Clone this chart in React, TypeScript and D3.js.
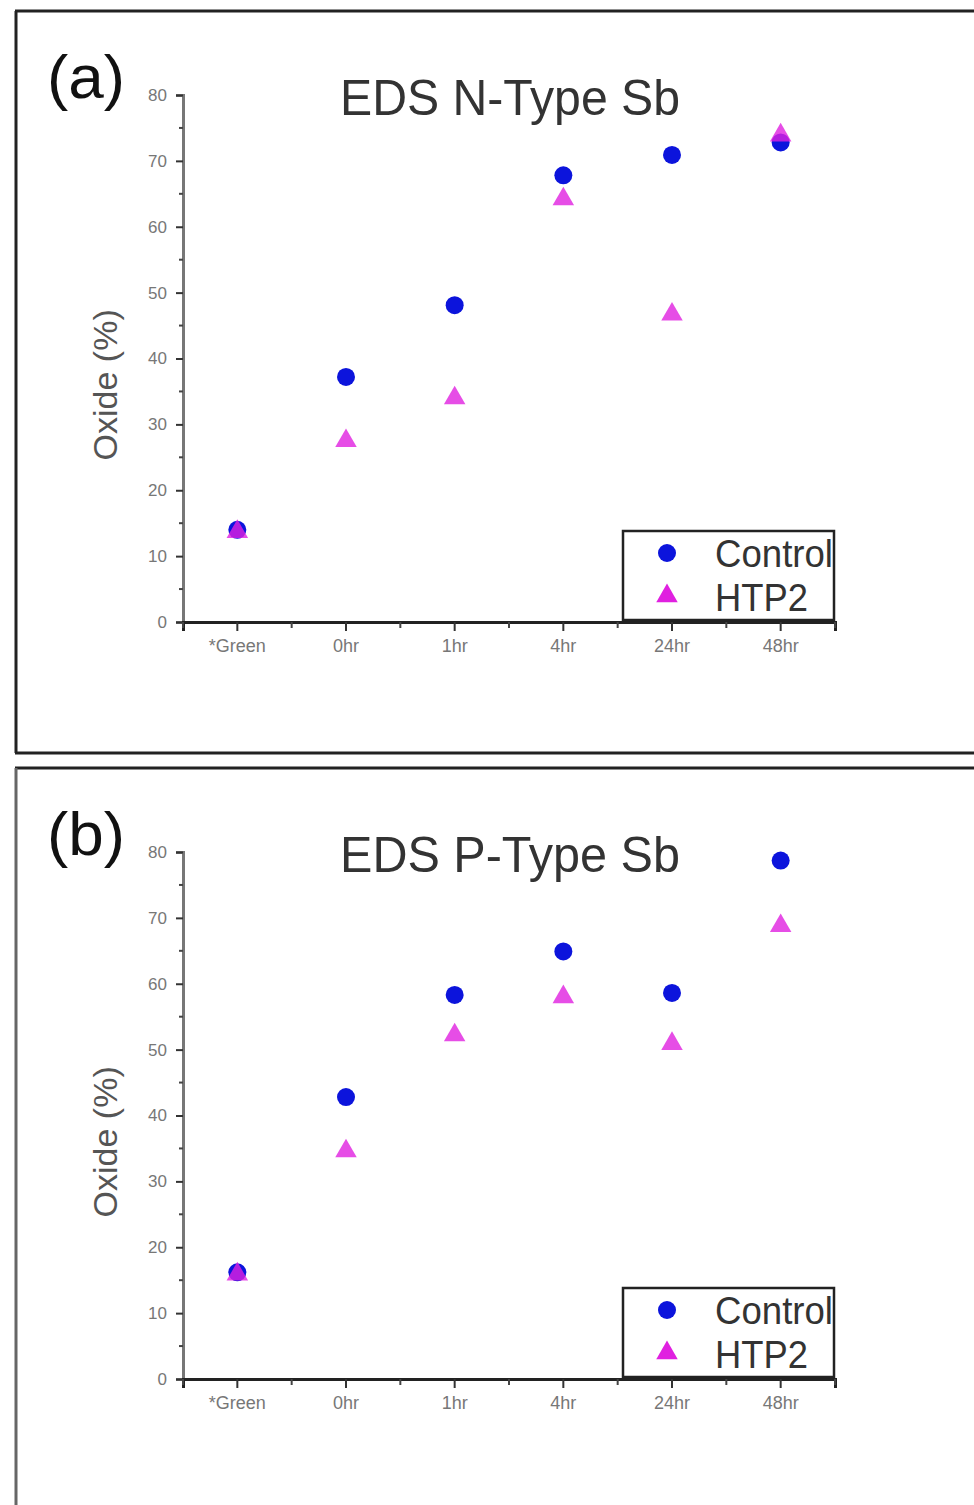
import React, { useRef, useEffect } from 'react';
import * as d3 from 'd3';

const categories = ['*Green', '0hr', '1hr', '4hr', '24hr', '48hr'];
const yTicks = [0, 10, 20, 30, 40, 50, 60, 70, 80];

const nControl = [14, 37.2, 48.1, 67.8, 70.9, 72.8];
const nHTP2 = [14, 27.8, 34.3, 64.5, 47, 74.2];
const pControl = [16.2, 42.8, 58.3, 64.9, 58.6, 78.7];
const pHTP2 = [16.2, 34.9, 52.5, 58.3, 51.2, 69.1];

const panels = [
  { tag: '(a)', title: 'EDS N-Type Sb', control: nControl, htp2: nHTP2, top: 11, bottom: 753, bottomBorder: true },
  { tag: '(b)', title: 'EDS P-Type Sb', control: pControl, htp2: pHTP2, top: 768, bottom: 1505, bottomBorder: false },
];

const BLUE = '#0c14dc';
const MAGENTA = '#e020e0';

const App = () => {
  const svgRef = useRef(null);

  useEffect(() => {
    const svg = d3.select(svgRef.current);
    svg.selectAll('*').remove();
    svg.append('rect').attr('width', 974).attr('height', 1505).attr('fill', '#fff');

    const font = '"Liberation Sans", Arial, sans-serif';
    const x = d3.scaleBand().domain(categories).range([183, 835]);
    const tri = d3.symbol().type(d3.symbolTriangle).size(200);

    panels.forEach((p) => {
      const g = svg.append('g');
      const offset = p.top - 11;
      const y = d3.scaleLinear().domain([0, 80]).range([622 + offset, 95 + offset]);

      // panel frame
      g.append('line').attr('x1', 15).attr('x2', 974).attr('y1', p.top).attr('y2', p.top)
        .attr('stroke', '#222').attr('stroke-width', 3);
      g.append('line').attr('x1', 16).attr('x2', 16).attr('y1', p.top).attr('y2', p.bottom)
        .attr('stroke', p.bottomBorder ? '#222' : '#666').attr('stroke-width', 3);
      if (p.bottomBorder) {
        g.append('line').attr('x1', 15).attr('x2', 974).attr('y1', p.bottom).attr('y2', p.bottom)
          .attr('stroke', '#222').attr('stroke-width', 3);
      }

      // panel tag and title
      g.append('text').attr('x', 47).attr('y', 98 + offset)
        .attr('textLength', 78).attr('lengthAdjust', 'spacingAndGlyphs')
        .style('font-family', font).style('font-size', '62px').attr('fill', '#111')
        .text(p.tag);
      g.append('text').attr('x', 340).attr('y', 115 + offset)
        .attr('textLength', 340).attr('lengthAdjust', 'spacingAndGlyphs')
        .style('font-family', font).style('font-size', '50px').attr('fill', '#333')
        .text(p.title);

      // y axis
      const yAxis = g.append('g').attr('transform', 'translate(183,0)')
        .call(d3.axisLeft(y).tickValues(yTicks).tickSize(7).tickPadding(9));
      yAxis.select('.domain').attr('stroke', '#777').attr('stroke-width', 3);
      yAxis.selectAll('.tick line').attr('stroke', '#333').attr('stroke-width', 2);
      yAxis.selectAll('.tick text').attr('fill', '#777')
        .style('font-family', font).style('font-size', '17px');
      const minorY = d3.range(5, 80, 10);
      g.selectAll('.minor-y').data(minorY).enter().append('line')
        .attr('x1', 179).attr('x2', 183).attr('y1', (d) => y(d)).attr('y2', (d) => y(d))
        .attr('stroke', '#444').attr('stroke-width', 2);

      // x axis
      const xAxis = g.append('g').attr('transform', `translate(0,${y(0)})`)
        .call(d3.axisBottom(x).tickSizeOuter(0).tickSize(9).tickPadding(8));
      xAxis.select('.domain').attr('stroke', '#222').attr('stroke-width', 3);
      xAxis.selectAll('.tick line').attr('stroke', '#333').attr('stroke-width', 2);
      xAxis.selectAll('.tick text').attr('fill', '#777')
        .style('font-family', font).style('font-size', '18px');
      const bounds = categories.map((c) => x(c)).concat([835]);
      g.selectAll('.minor-x').data(bounds).enter().append('line')
        .attr('x1', (d) => d).attr('x2', (d) => d)
        .attr('y1', y(0)).attr('y2', y(0) + 6)
        .attr('stroke', '#444').attr('stroke-width', 2);

      // y label
      g.append('text')
        .attr('transform', `translate(117,${y(36)}) rotate(-90)`)
        .attr('text-anchor', 'middle')
        .style('font-family', font).style('font-size', '34px').attr('fill', '#555')
        .text('Oxide (%)');

      // data
      const cx = (i) => x(categories[i]) + x.bandwidth() / 2;
      g.selectAll('.ctrl').data(p.control).enter().append('circle')
        .attr('cx', (d, i) => cx(i)).attr('cy', (d) => y(d)).attr('r', 9)
        .attr('fill', BLUE);
      g.selectAll('.htp').data(p.htp2).enter().append('path')
        .attr('d', tri)
        .attr('transform', (d, i) => `translate(${cx(i)},${y(d) + 2})`)
        .attr('fill', MAGENTA).attr('fill-opacity', 0.8);

      // legend
      const ly = y(0);
      g.append('rect').attr('x', 623).attr('y', ly - 91).attr('width', 211).attr('height', 89)
        .attr('fill', '#fff').attr('stroke', '#222').attr('stroke-width', 2.5);
      g.append('circle').attr('cx', 667).attr('cy', ly - 69).attr('r', 9).attr('fill', BLUE);
      g.append('path').attr('d', tri).attr('transform', `translate(667,${ly - 26})`).attr('fill', MAGENTA);
      g.append('text').attr('x', 715).attr('y', ly - 55)
        .attr('textLength', 118).attr('lengthAdjust', 'spacingAndGlyphs')
        .style('font-family', font).style('font-size', '38px').attr('fill', '#333').text('Control');
      g.append('text').attr('x', 715).attr('y', ly - 11)
        .attr('textLength', 93).attr('lengthAdjust', 'spacingAndGlyphs')
        .style('font-family', font).style('font-size', '38px').attr('fill', '#333').text('HTP2');
    });
  }, []);

  return (
    <div style={{ position: 'absolute', left: 0, top: 0 }}>
      <svg ref={svgRef} width={974} height={1505} style={{ display: 'block' }}></svg>
    </div>
  );
};

export default App;
